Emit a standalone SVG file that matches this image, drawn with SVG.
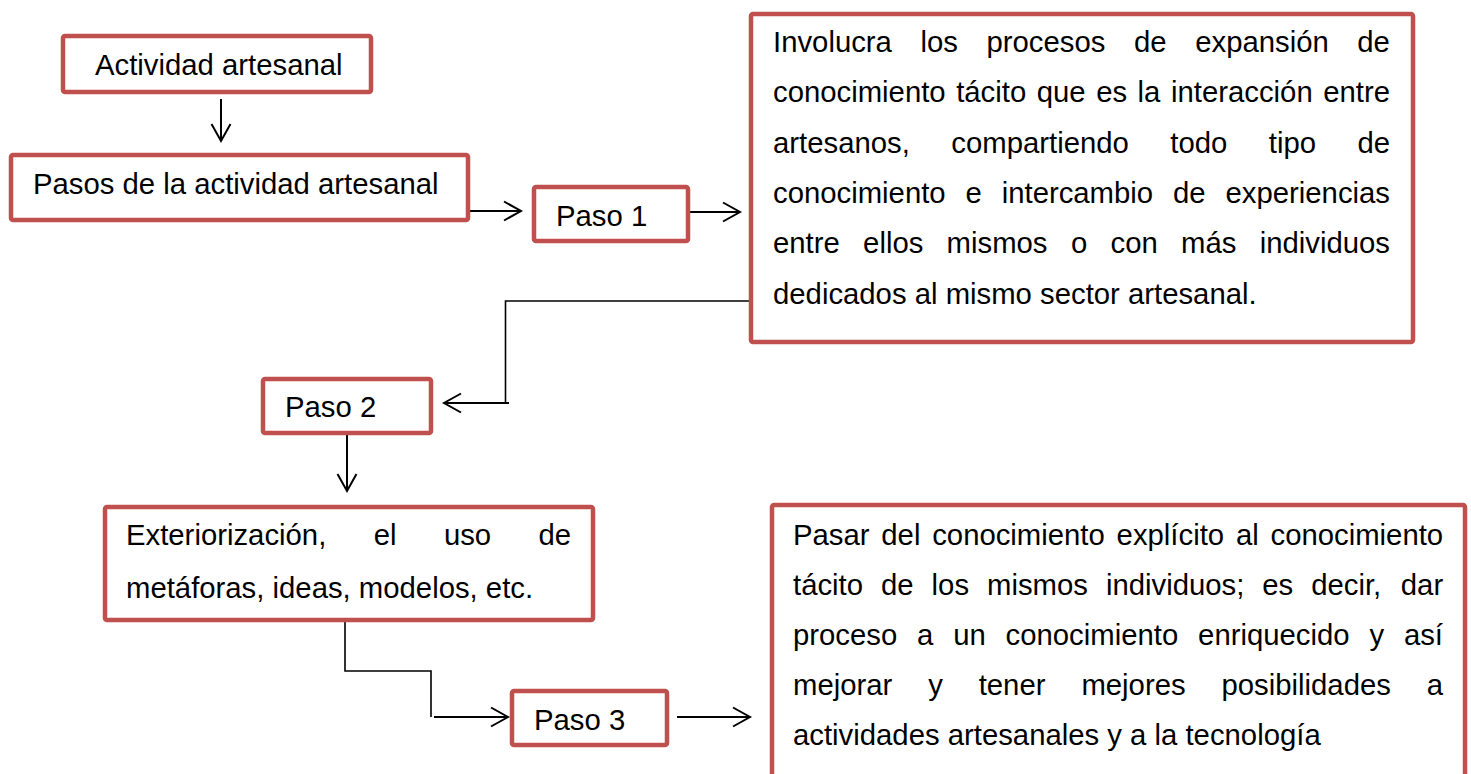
<svg xmlns="http://www.w3.org/2000/svg" width="1471" height="774" viewBox="0 0 1471 774">
<style>
.box{fill:#fff;stroke:#C0504D;stroke-width:4.5}
.t{font-family:"Liberation Sans",Arial,sans-serif;font-size:29.3px;fill:#000}
.ln{fill:none;stroke:#000;stroke-width:1.6}
.ar{fill:none;stroke:#000;stroke-width:2}
</style>
<defs>
<marker id="ah" markerUnits="userSpaceOnUse" markerWidth="22" markerHeight="24" refX="18" refY="10" orient="auto" overflow="visible">
<path d="M1,0.5 L18,10 L1,19.5" fill="none" stroke="#000" stroke-width="2"/>
</marker>
</defs>
<rect width="1471" height="774" fill="#fff"/>
<g id="connectors">
<path class="ar" d="M221,99 V141" marker-end="url(#ah)"/>
<path class="ar" d="M470,211 H521" marker-end="url(#ah)"/>
<path class="ar" d="M690,212 H740" marker-end="url(#ah)"/>
<path class="ln" d="M750,301 H505.5 V403"/>
<path class="ar" d="M509,403 H444" marker-end="url(#ah)"/>
<path class="ar" d="M347,435 V491" marker-end="url(#ah)"/>
<path class="ln" d="M345,622 V671 H431 V717"/>
<path class="ar" d="M434,717 H508" marker-end="url(#ah)"/>
<path class="ar" d="M677,717 H750" marker-end="url(#ah)"/>
</g>
<g id="actividad">
<rect class="box" x="63" y="36" width="308" height="56" rx="2"/>
<text class="t" x="95" y="75">Actividad artesanal</text>
</g>
<g id="pasos">
<rect class="box" x="11" y="155" width="457" height="65" rx="2"/>
<text class="t" x="33" y="194">Pasos de la actividad artesanal</text>
</g>
<g id="paso1">
<rect class="box" x="534" y="187" width="154" height="54" rx="2"/>
<text class="t" x="556" y="226">Paso 1</text>
</g>
<g id="desc1">
<rect class="box" x="751" y="14" width="662" height="328" rx="2"/>
<text class="t" y="52"><tspan x="773">Involucra</tspan><tspan x="920.5">los</tspan><tspan x="986.5">procesos</tspan><tspan x="1134">de</tspan><tspan x="1195.2">expansión</tspan><tspan x="1357.3">de</tspan></text>
<text class="t" y="102"><tspan x="773">conocimiento</tspan><tspan x="956.2">tácito</tspan><tspan x="1036.7">que</tspan><tspan x="1096.2">es</tspan><tspan x="1137.6">la</tspan><tspan x="1171">interacción</tspan><tspan x="1323.2">entre</tspan></text>
<text class="t" y="153"><tspan x="773">artesanos,</tspan><tspan x="951.3">compartiendo</tspan><tspan x="1170.3">todo</tspan><tspan x="1268.8">tipo</tspan><tspan x="1357.5">de</tspan></text>
<text class="t" y="203"><tspan x="773">conocimiento</tspan><tspan x="965.5">e</tspan><tspan x="1001.7">intercambio</tspan><tspan x="1173">de</tspan><tspan x="1225.5">experiencias</tspan></text>
<text class="t" y="253"><tspan x="773">entre</tspan><tspan x="863.1">ellos</tspan><tspan x="946.6">mismos</tspan><tspan x="1070.9">o</tspan><tspan x="1110.5">con</tspan><tspan x="1181">más</tspan><tspan x="1259.7">individuos</tspan></text>
<text class="t" x="773" y="304">dedicados al mismo sector artesanal.</text>
</g>
<g id="paso2">
<rect class="box" x="263" y="379" width="168" height="54" rx="2"/>
<text class="t" x="285" y="417">Paso 2</text>
</g>
<g id="exteriorizacion">
<rect class="box" x="105" y="507" width="488" height="113" rx="2"/>
<text class="t" y="545"><tspan x="126">Exteriorización,</tspan><tspan x="373.7">el</tspan><tspan x="443.9">uso</tspan><tspan x="538.5">de</tspan></text>
<text class="t" x="126" y="598">metáforas, ideas, modelos, etc.</text>
</g>
<g id="paso3">
<rect class="box" x="512" y="691" width="155" height="54" rx="2"/>
<text class="t" x="534" y="730">Paso 3</text>
</g>
<g id="desc3">
<rect class="box" x="772" y="505" width="693" height="300" rx="2"/>
<text class="t" y="545"><tspan x="793">Pasar</tspan><tspan x="881.3">del</tspan><tspan x="932.2">conocimiento</tspan><tspan x="1116.6">explícito</tspan><tspan x="1235.9">al</tspan><tspan x="1270.5">conocimiento</tspan></text>
<text class="t" y="595"><tspan x="793">tácito</tspan><tspan x="881">de</tspan><tspan x="931.6">los</tspan><tspan x="987">mismos</tspan><tspan x="1105.9">individuos;</tspan><tspan x="1262.3">es</tspan><tspan x="1311.2">decir,</tspan><tspan x="1400.8">dar</tspan></text>
<text class="t" y="645"><tspan x="793">proceso</tspan><tspan x="917">a</tspan><tspan x="953.2">un</tspan><tspan x="1005.6">conocimiento</tspan><tspan x="1198.1">enriquecido</tspan><tspan x="1369.4">y</tspan><tspan x="1403.9">así</tspan></text>
<text class="t" y="695"><tspan x="793">mejorar</tspan><tspan x="928.2">y</tspan><tspan x="978.7">tener</tspan><tspan x="1081.4">mejores</tspan><tspan x="1221.5">posibilidades</tspan><tspan x="1426.8">a</tspan></text>
<text class="t" x="793" y="745">actividades artesanales y a la tecnología</text>
</g>
</svg>
